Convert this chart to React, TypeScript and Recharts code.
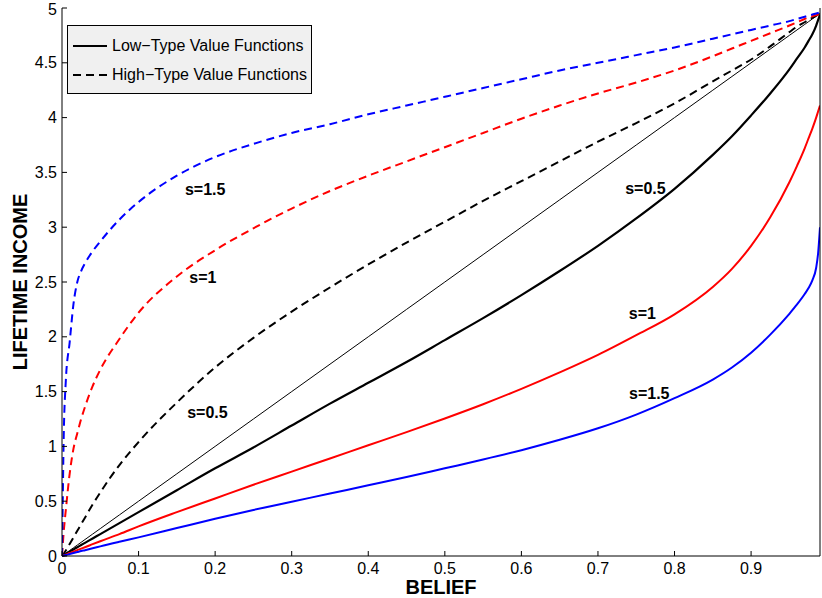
import React from 'react';
import { LineChart, Line, XAxis, YAxis, Legend, ReferenceDot } from 'recharts';

const FONT = '"Liberation Sans", Arial, Helvetica, sans-serif';

const belief = [0, 0.001, 0.002, 0.005, 0.01, 0.015, 0.02, 0.025, 0.03, 0.04, 0.05, 0.075, 0.1, 0.15, 0.2, 0.25, 0.3, 0.35, 0.4, 0.45, 0.5, 0.55, 0.6, 0.65, 0.7, 0.75, 0.8, 0.85, 0.875, 0.9, 0.925, 0.95, 0.96, 0.97, 0.975, 0.98, 0.985, 0.9875, 0.99];

const diagonal = [0, 0.005, 0.01, 0.025, 0.05, 0.075, 0.1, 0.125, 0.15, 0.2, 0.25, 0.375, 0.5, 0.75, 1, 1.25, 1.5, 1.75, 2, 2.25, 2.5, 2.75, 3, 3.25, 3.5, 3.75, 4, 4.25, 4.375, 4.5, 4.625, 4.75, 4.8, 4.85, 4.875, 4.9, 4.925, 4.9375, 4.95];

const lowS05 = [0, 0.004, 0.008, 0.02, 0.04, 0.06, 0.08, 0.1, 0.12, 0.16, 0.2, 0.3, 0.4, 0.6, 0.8, 0.99, 1.19, 1.39, 1.58, 1.77, 1.97, 2.17, 2.38, 2.6, 2.83, 3.08, 3.35, 3.66, 3.83, 4.02, 4.22, 4.44, 4.54, 4.64, 4.7, 4.76, 4.84, 4.89, 4.94];
const lowS1 = [0, 0.003, 0.005, 0.013, 0.027, 0.04, 0.054, 0.067, 0.08, 0.108, 0.135, 0.2, 0.27, 0.4, 0.525, 0.65, 0.77, 0.89, 1.01, 1.13, 1.255, 1.385, 1.525, 1.675, 1.835, 2.015, 2.205, 2.455, 2.62, 2.83, 3.09, 3.41, 3.56, 3.72, 3.81, 3.9, 4.0, 4.055, 4.11];
const lowS15 = [0, 0.002, 0.004, 0.009, 0.018, 0.027, 0.036, 0.045, 0.053, 0.07, 0.088, 0.13, 0.17, 0.255, 0.34, 0.42, 0.495, 0.57, 0.645, 0.72, 0.8, 0.88, 0.965, 1.06, 1.165, 1.29, 1.44, 1.61, 1.72, 1.855, 2.02, 2.21, 2.295, 2.39, 2.445, 2.515, 2.63, 2.76, 3.0];

const highS05 = [0, 0.01, 0.02, 0.05, 0.11, 0.17, 0.23, 0.29, 0.35, 0.47, 0.58, 0.83, 1.04, 1.4, 1.72, 1.99, 2.23, 2.45, 2.66, 2.86, 3.05, 3.24, 3.42, 3.6, 3.78, 3.95, 4.13, 4.33, 4.43, 4.53, 4.65, 4.78, 4.83, 4.87, 4.89, 4.91, 4.93, 4.94, 4.95];
const highS1 = [0, 0.1, 0.2, 0.42, 0.75, 0.98, 1.12, 1.25, 1.36, 1.55, 1.7, 1.98, 2.22, 2.55, 2.79, 2.99, 3.17, 3.33, 3.47, 3.6, 3.73, 3.86, 3.99, 4.11, 4.22, 4.32, 4.43, 4.56, 4.63, 4.7, 4.77, 4.84, 4.87, 4.9, 4.915, 4.925, 4.935, 4.94, 4.95];
const highS15 = [0, 0.5, 1.0, 1.6, 1.95, 2.3, 2.5, 2.6, 2.67, 2.78, 2.87, 3.07, 3.23, 3.47, 3.64, 3.76, 3.86, 3.94, 4.03, 4.11, 4.19, 4.27, 4.35, 4.43, 4.5, 4.57, 4.64, 4.72, 4.76, 4.8, 4.84, 4.88, 4.9, 4.92, 4.93, 4.94, 4.95, 4.955, 4.96];

const xTicks = [0, 0.1, 0.2, 0.3, 0.4, 0.5, 0.6, 0.7, 0.8, 0.9];
const yTicks = [0, 0.5, 1, 1.5, 2, 2.5, 3, 3.5, 4, 4.5, 5];

const legendItems = [
  { label: 'Low\u2212Type Value Functions', dash: undefined as string | undefined },
  { label: 'High\u2212Type Value Functions', dash: '8 5' },
];

const annotations = [
  { text: 's=1.5', x: 0.187, y: 3.35 },
  { text: 's=1', x: 0.184, y: 2.54 },
  { text: 's=0.5', x: 0.19, y: 1.315 },
  { text: 's=0.5', x: 0.762, y: 3.355 },
  { text: 's=1', x: 0.758, y: 2.21 },
  { text: 's=1.5', x: 0.767, y: 1.48 },
];

const series = [
  { key: 'diag', values: diagonal, color: '#000000', width: 1, dash: undefined as string | undefined },
  { key: 'highS05', values: highS05, color: '#000000', width: 2, dash: '8 5' },
  { key: 'highS1', values: highS1, color: '#ff0000', width: 2, dash: '8 5' },
  { key: 'highS15', values: highS15, color: '#0000ff', width: 2, dash: '8 5' },
  { key: 'lowS05', values: lowS05, color: '#000000', width: 2.2, dash: undefined },
  { key: 'lowS1', values: lowS1, color: '#ff0000', width: 2, dash: undefined },
  { key: 'lowS15', values: lowS15, color: '#0000ff', width: 2, dash: undefined },
];

const data = belief.map((x, i) => {
  const row: Record<string, number> = { x };
  series.forEach((s) => {
    row[s.key] = s.values[i];
  });
  return row;
});

const LegendBox = () => (
  <div
    style={{
      width: 245,
      height: 69,
      boxSizing: 'border-box',
      border: '1px solid #000',
      background: '#f0f0f0',
      fontFamily: FONT,
      fontSize: 16,
      position: 'relative',
      color: '#000',
    }}
  >
    {legendItems.map((it, i) => (
      <div
        key={i}
        style={{ position: 'absolute', left: 5, top: 9 + i * 29, height: 22, display: 'flex', alignItems: 'center', whiteSpace: 'nowrap' }}
      >
        <svg width={36} height={4} style={{ display: 'block' }}>
          <line x1={0} y1={2} x2={34} y2={2} stroke="#000" strokeWidth={2} strokeDasharray={it.dash} />
        </svg>
        <span style={{ marginLeft: 3 }}>{it.label}</span>
      </div>
    ))}
  </div>
);

const XTitle = (props: any) => {
  const vb = props.viewBox || { x: 62, y: 556, width: 758, height: 42 };
  return (
    <text x={vb.x + vb.width / 2} y={vb.y + vb.height - 4} textAnchor="middle" fontFamily={FONT} fontWeight="bold" fontSize={20} fill="#000">
      BELIEF
    </text>
  );
};

const YTitle = (props: any) => {
  const vb = props.viewBox || { x: 0, y: 8, width: 62, height: 548 };
  const cx = vb.x + 27;
  const cy = vb.y + vb.height / 2;
  return (
    <text x={cx} y={cy} transform={`rotate(-90, ${cx}, ${cy})`} textAnchor="middle" fontFamily={FONT} fontWeight="bold" fontSize={20} fill="#000">
      LIFETIME INCOME
    </text>
  );
};

const tickStyle = { fontFamily: FONT, fontSize: 16, fill: '#000' };

export default function App() {
  return (
    <div style={{ position: 'absolute', left: 0, top: 0, width: 822, height: 598, background: '#fff' }}>
      <LineChart width={822} height={598} data={data} margin={{ top: 8, right: 0, bottom: 0, left: 0 }}>
        <XAxis
          dataKey="x"
          type="number"
          domain={[0, 0.99]}
          allowDataOverflow
          ticks={xTicks}
          tickFormatter={(v: number) => String(v)}
          height={42}
          tick={tickStyle}
          tickSize={-5}
          tickMargin={12}
          stroke="#000"
          tickLine={{ stroke: '#000' }}
          axisLine={{ stroke: '#000' }}
          label={<XTitle />}
        />
        <XAxis
          xAxisId="top"
          orientation="top"
          dataKey="x"
          type="number"
          domain={[0, 0.99]}
          allowDataOverflow
          ticks={xTicks}
          tickFormatter={() => ''}
          height={0}
          tickSize={-5}
          tickMargin={0}
          stroke="#000"
          tickLine={{ stroke: '#000' }}
          axisLine={{ stroke: '#000' }}
        />
        <YAxis
          type="number"
          domain={[0, 5]}
          ticks={yTicks}
          tickFormatter={(v: number) => String(v)}
          width={62}
          tick={tickStyle}
          tickSize={-5}
          tickMargin={10}
          stroke="#000"
          tickLine={{ stroke: '#000' }}
          axisLine={{ stroke: '#000' }}
          label={<YTitle />}
        />
        <YAxis
          yAxisId="right"
          orientation="right"
          type="number"
          domain={[0, 5]}
          ticks={yTicks}
          tickFormatter={() => ''}
          width={2}
          tickSize={-5}
          tickMargin={0}
          stroke="#000"
          tickLine={{ stroke: '#000' }}
          axisLine={{ stroke: '#000' }}
        />
        <Legend
          layout="vertical"
          align="center"
          verticalAlign="middle"
          content={<LegendBox />}
          wrapperStyle={{ left: 67, top: 25, width: 245, height: 69 }}
        />
        {series.map((s) => (
          <Line
            key={s.key}
            dataKey={s.key}
            type="monotone"
            stroke={s.color}
            strokeWidth={s.width}
            strokeDasharray={s.dash}
            dot={false}
            activeDot={false}
            isAnimationActive={false}
            legendType="none"
          />
        ))}
        {annotations.map((a, i) => (
          <ReferenceDot
            key={i}
            x={a.x}
            y={a.y}
            r={0}
            fill="none"
            stroke="none"
            label={{ value: a.text, position: 'center', fill: '#000', fontWeight: 'bold', fontSize: 16, fontFamily: FONT }}
          />
        ))}
      </LineChart>
    </div>
  );
}
